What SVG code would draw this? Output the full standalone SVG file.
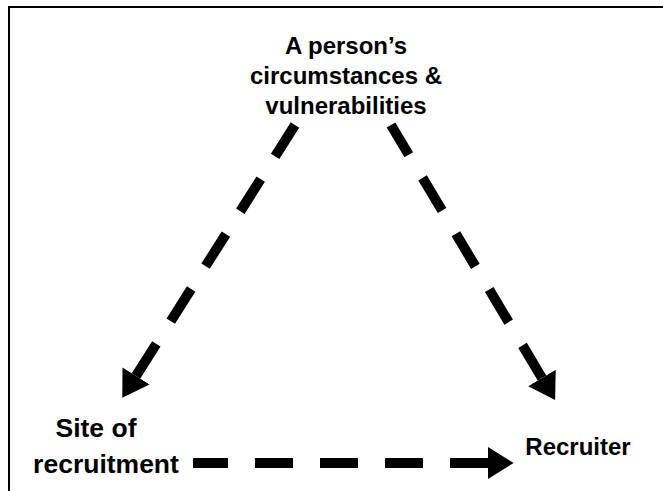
<svg xmlns="http://www.w3.org/2000/svg" width="663" height="491" viewBox="0 0 663 491">
  <style>
    .lbl { font-family: "Liberation Sans", Arial, sans-serif; font-weight: bold; font-size: 24px; fill: #000; text-anchor: middle; }
    .big { font-size: 26.5px; }
    .dash { fill: none; stroke: #000; stroke-width: 10; stroke-dasharray: 38 27; }
  </style>
  <defs>
    <!-- arrowhead placed at the path start, pointing away from the line -->
    <marker id="head" viewBox="0 0 8 10" refX="0" refY="5" markerWidth="2.6" markerHeight="3.2" markerUnits="strokeWidth" orient="auto-start-reverse">
      <path d="M0,0 L8,5 L0,10 Z" fill="#000"/>
    </marker>
  </defs>
  <rect width="663" height="491" fill="#fff"/>
  <!-- frame: top and left rules -->
  <path d="M9,491 L9,7 L663,7" fill="none" stroke="#000" stroke-width="2"/>

  <g id="node-person">
    <text class="lbl" x="346" y="54">A person’s</text>
    <text class="lbl" x="346" y="84">circumstances &amp;</text>
    <text class="lbl" x="346" y="114">vulnerabilities</text>
  </g>
  <g id="node-site">
    <text class="lbl big" x="96" y="437">Site of</text>
    <text class="lbl big" x="106" y="473">recruitment</text>
  </g>
  <g id="node-recruiter">
    <text class="lbl" x="578" y="455">Recruiter</text>
  </g>

  <!-- each connector is drawn from the arrowhead base back to its source -->
  <g id="connectors">
    <path class="dash" d="M136,376 L295,125" marker-start="url(#head)"/>
    <path class="dash" d="M542,378 L391,125" marker-start="url(#head)"/>
    <path class="dash" d="M488,463 L193,463" marker-start="url(#head)"/>
  </g>
</svg>
